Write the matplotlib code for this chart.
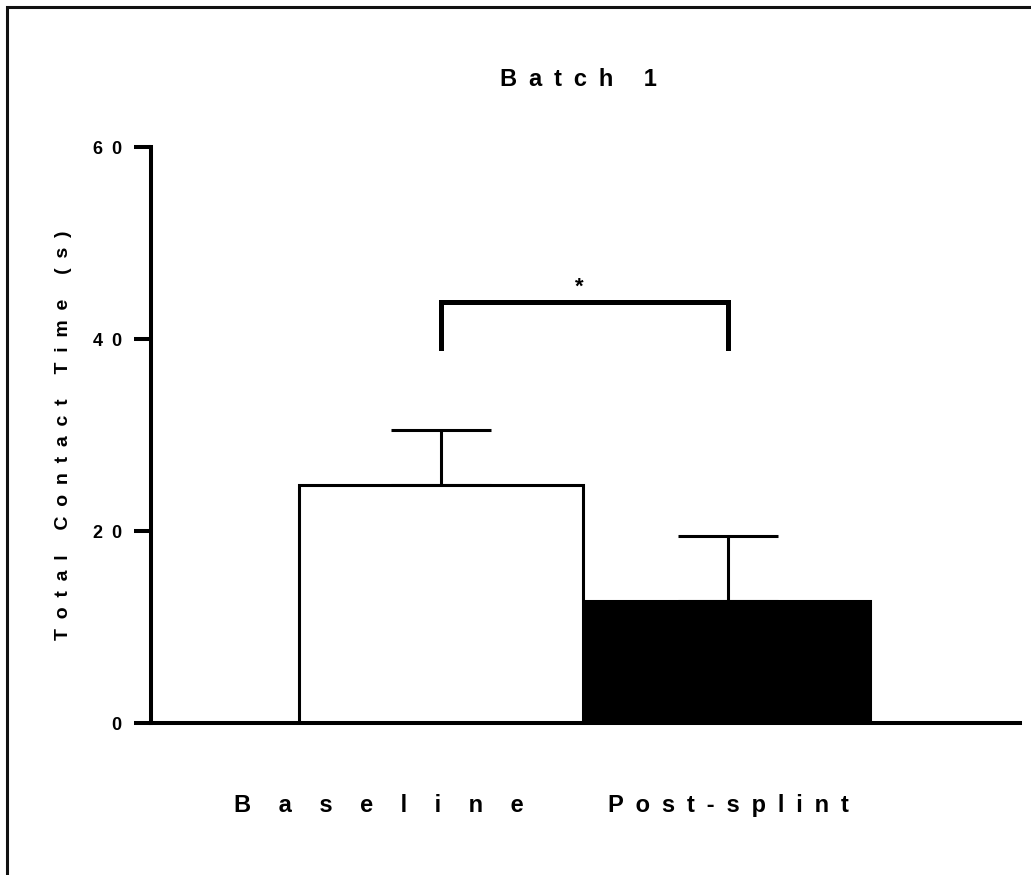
import matplotlib
matplotlib.use('Agg')
import matplotlib.pyplot as plt
from matplotlib.patches import Rectangle
from matplotlib.transforms import ScaledTranslation

plt.rcParams['font.family'] = ['Liberation Sans', 'DejaVu Sans']
plt.rcParams['font.weight'] = 'bold'
plt.rcParams['axes.titleweight'] = 'bold'
plt.rcParams['axes.labelweight'] = 'bold'

groups = ['Baseline', 'Post-splint']
means = [24.8, 12.7]
sems = [5.7, 6.8]
fills = ['white', 'black']
yticks = [0, 20, 40, 60]
bracket_y = 43.9
bracket_leg = 39.1

EN = '\u2002'  # en space
WIDE = '\u2003\u2006'  # em + sixth-em space


def spaced(s, gap=EN):
    # Prism-style wide letter spacing
    return gap.join(s)


fg = plt.figure(figsize=(10.31, 8.75), dpi=100)
fg.patches.append(Rectangle((7 / 1031, -0.1), 1.2, 1 - 7 / 875 + 0.1,
                            transform=fg.transFigure, fill=False,
                            edgecolor='#111111', linewidth=2.2))

ax = fg.add_axes([151 / 1031, 1 - 723 / 875, (1020 - 151) / 1031, (723 - 147) / 875])
xs = list(range(len(groups)))

ax.bar(xs, means, width=0.99, color=fills, edgecolor='black', linewidth=2.2, zorder=2)
ax.errorbar(xs, means, yerr=[[0, 0], sems], fmt='none', ecolor='black',
            elinewidth=2.2, capsize=36, capthick=2.2, zorder=1)

# significance bracket
ax.plot([xs[0], xs[0], xs[1], xs[1]], [bracket_leg, bracket_y, bracket_y, bracket_leg],
        color='black', linewidth=3.6, solid_joinstyle='miter', clip_on=False)
ax.text(0.48, bracket_y + 0.4, '*', ha='center', va='bottom', fontsize=16)

ax.set_xlim(-1.0105, 2.017)
ax.set_ylim(0, 60)
ax.set_yticks(yticks)
ax.set_yticklabels([spaced(str(v)) for v in yticks], fontsize=13)
ax.tick_params(axis='y', length=12, width=2.9, pad=9)
ax.set_xticks(xs)
ax.set_xticklabels([spaced(groups[0], WIDE), spaced(groups[1])], fontsize=17)
ax.tick_params(axis='x', length=0, pad=51)
labs = ax.get_xticklabels()
labs[0].set_transform(labs[0].get_transform() + ScaledTranslation(-0.62, 0, fg.dpi_scale_trans))

for side in ('top', 'right'):
    ax.spines[side].set_visible(False)
for side in ('left', 'bottom'):
    ax.spines[side].set_linewidth(2.9)

ax.set_ylabel(spaced('Total Contact Time (s)'), fontsize=14, labelpad=15)
ax.set_title(spaced('Batch 1'), fontsize=17, pad=44, x=0.492)

fg.savefig('out.png', dpi=100)
